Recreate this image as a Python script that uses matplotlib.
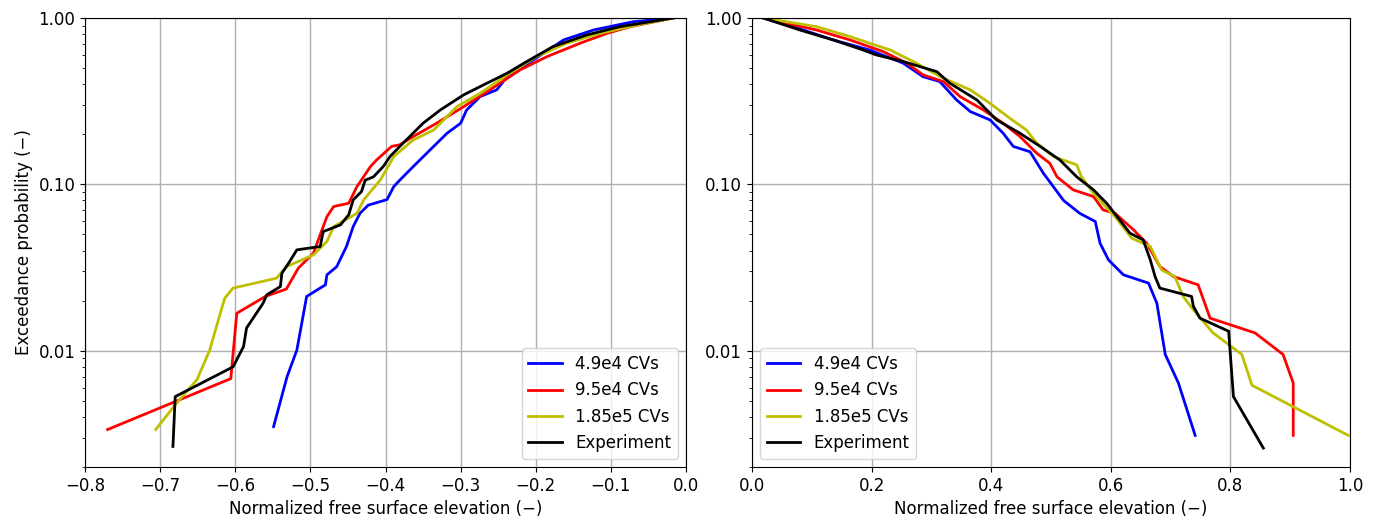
import matplotlib
matplotlib.use("Agg")
import matplotlib.pyplot as plt
from matplotlib.ticker import FixedLocator, FixedFormatter

labels = ["4.9e4 CVs", "9.5e4 CVs", "1.85e5 CVs", "Experiment"]
colors = ["b", "r", "y", "k"]

# Left panel: troughs (negative elevations)
trough_x = [
    # 4.9e4 CVs
    [-0.549, -0.531, -0.518, -0.505, -0.480, -0.478, -0.465, -0.452, -0.443, -0.434, -0.423,
     -0.398, -0.389, -0.381, -0.363, -0.336, -0.318, -0.300, -0.292, -0.274, -0.252, -0.238,
     -0.203, -0.163, -0.123, -0.070, -0.017],
    # 9.5e4 CVs
    [-0.770, -0.606, -0.598, -0.560, -0.532, -0.516, -0.496, -0.478, -0.469, -0.449, -0.438,
     -0.420, -0.412, -0.392, -0.381, -0.363, -0.332, -0.296, -0.261, -0.221, -0.185, -0.141,
     -0.105, -0.074, -0.017],
    # 1.85e5 CVs
    [-0.706, -0.678, -0.651, -0.634, -0.620, -0.614, -0.603, -0.545, -0.532, -0.496, -0.478,
     -0.469, -0.438, -0.429, -0.418, -0.407, -0.389, -0.363, -0.336, -0.305, -0.274, -0.238,
     -0.199, -0.159, -0.114, -0.065, -0.017],
    # Experiment
    [-0.683, -0.680, -0.603, -0.589, -0.585, -0.563, -0.558, -0.540, -0.538, -0.529, -0.518,
     -0.487, -0.483, -0.460, -0.449, -0.443, -0.432, -0.427, -0.416, -0.403, -0.394, -0.381,
     -0.350, -0.327, -0.296, -0.274, -0.238, -0.212, -0.177, -0.132, -0.088, -0.017],
]
trough_p = [
    [0.0035, 0.0070, 0.0101, 0.0212, 0.0249, 0.0286, 0.032, 0.0423, 0.0558, 0.067, 0.075,
     0.081, 0.097, 0.106, 0.128, 0.169, 0.203, 0.233, 0.280, 0.337, 0.370, 0.444,
     0.560, 0.738, 0.847, 0.95, 1.0],
    [0.00336, 0.0068, 0.0168, 0.0212, 0.0235, 0.0314, 0.0386, 0.064, 0.0736, 0.077, 0.097,
     0.128, 0.140, 0.169, 0.173, 0.194, 0.233, 0.293, 0.370, 0.487, 0.586, 0.705,
     0.809, 0.887, 1.0],
    [0.00336, 0.00485, 0.0067, 0.0101, 0.0168, 0.0207, 0.0238, 0.0273, 0.032, 0.0377, 0.0454,
     0.0558, 0.067, 0.0807, 0.0927, 0.106, 0.147, 0.185, 0.212, 0.293, 0.353, 0.455,
     0.586, 0.705, 0.809, 0.908, 1.0],
    [0.00266, 0.0053, 0.0080, 0.0106, 0.0137, 0.0193, 0.0217, 0.0243, 0.0292, 0.0336, 0.0404,
     0.0423, 0.052, 0.0571, 0.0656, 0.0807, 0.0905, 0.106, 0.111, 0.128, 0.147, 0.169,
     0.233, 0.280, 0.345, 0.387, 0.466, 0.547, 0.673, 0.791, 0.887, 1.0],
]

# Right panel: crests (positive elevations)
crest_x = [
    [0.019, 0.080, 0.136, 0.197, 0.253, 0.286, 0.314, 0.342, 0.365, 0.398, 0.420, 0.437,
     0.465, 0.487, 0.521, 0.548, 0.574, 0.582, 0.596, 0.621, 0.663, 0.677, 0.691, 0.713,
     0.741],
    [0.019, 0.108, 0.164, 0.220, 0.259, 0.286, 0.320, 0.348, 0.387, 0.420, 0.448, 0.476,
     0.498, 0.510, 0.537, 0.571, 0.587, 0.607, 0.638, 0.660, 0.682, 0.705, 0.746, 0.766,
     0.841, 0.888, 0.905, 0.905],
    [0.019, 0.108, 0.164, 0.231, 0.270, 0.320, 0.365, 0.398, 0.431, 0.459, 0.476, 0.504,
     0.543, 0.551, 0.571, 0.607, 0.635, 0.666, 0.685, 0.707, 0.721, 0.738, 0.771, 0.819,
     0.836, 0.997],
    [0.019, 0.080, 0.136, 0.186, 0.208, 0.253, 0.309, 0.331, 0.376, 0.409, 0.448, 0.482,
     0.515, 0.543, 0.571, 0.593, 0.632, 0.654, 0.666, 0.674, 0.682, 0.735, 0.738, 0.749,
     0.797, 0.805, 0.855],
]
crest_p = [
    [1.0, 0.86, 0.738, 0.642, 0.535, 0.444, 0.415, 0.322, 0.274, 0.244, 0.203, 0.169,
     0.157, 0.117, 0.080, 0.067, 0.0598, 0.0443, 0.0352, 0.0286, 0.0255, 0.0193, 0.0095, 0.0064,
     0.0031],
    [1.0, 0.847, 0.738, 0.627, 0.535, 0.455, 0.415, 0.337, 0.280, 0.233, 0.194, 0.154,
     0.134, 0.111, 0.0927, 0.0845, 0.0703, 0.067, 0.0533, 0.0443, 0.0321, 0.0279, 0.0249, 0.0157,
     0.0128, 0.0095, 0.0064, 0.0031],
    [1.0, 0.887, 0.773, 0.642, 0.547, 0.434, 0.370, 0.307, 0.250, 0.212, 0.177, 0.147,
     0.131, 0.111, 0.0885, 0.064, 0.0475, 0.0423, 0.0306, 0.0279, 0.0212, 0.0176, 0.0128, 0.0095,
     0.0062, 0.0031],
    [1.0, 0.847, 0.738, 0.642, 0.600, 0.547, 0.476, 0.405, 0.322, 0.244, 0.203, 0.169,
     0.140, 0.111, 0.0927, 0.077, 0.0509, 0.0464, 0.0352, 0.0279, 0.0238, 0.0212, 0.0185, 0.0157,
     0.0131, 0.0053, 0.0026],
]

plt.rcParams['font.size'] = 12

fig = plt.figure(figsize=(13.81, 5.23), dpi=100)
ax1 = fig.add_axes([0.0616, 0.107, 0.4351, 0.8586])
ax2 = fig.add_axes([0.5445, 0.107, 0.4331, 0.8586])

for xs, ps, c, lab in zip(trough_x, trough_p, colors, labels):
    ax1.plot(xs, ps, color=c, lw=2, label=lab)
for xs, ps, c, lab in zip(crest_x, crest_p, colors, labels):
    ax2.plot(xs, ps, color=c, lw=2, label=lab)

for ax in (ax1, ax2):
    ax.set_yscale("log")
    ax.set_ylim(0.002, 1.0)
    ax.yaxis.set_major_locator(FixedLocator([0.01, 0.1, 1.0]))
    ax.yaxis.set_major_formatter(FixedFormatter(["0.01", "0.10", "1.00"]))
    ax.grid(True, which="major", color="#b0b0b0", lw=1)
    ax.set_xlabel("Normalized free surface elevation (\u2212)")

ax1.set_xlim(-0.8, 0.0)
ax1.set_xticks([-0.8, -0.7, -0.6, -0.5, -0.4, -0.3, -0.2, -0.1, 0.0])
ax2.set_xlim(0.0, 1.0)
ax2.set_xticks([0.0, 0.2, 0.4, 0.6, 0.8, 1.0])
ax1.set_ylabel("Exceedance probability (\u2212)")

ax1.legend(loc="lower right", fontsize=12)
ax2.legend(loc="lower left", fontsize=12)

plt.savefig("out.png", dpi=100)
